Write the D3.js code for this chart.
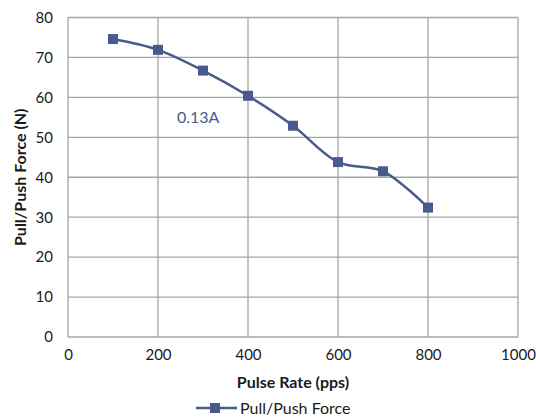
<!DOCTYPE html>
<html>
<head>
<meta charset="utf-8">
<script src="https://cdn.jsdelivr.net/npm/d3@7"></script>
<style>
  body { margin: 0; background: #fff; }
  svg text { font-family: Lato, "Liberation Sans", sans-serif; fill: #1a1a1a; }
</style>
</head>
<body>
<div id="chart"></div>
<script>
let width = 536,
    height = 419

// data
let pulseRate = [100, 200, 300, 400, 500, 600, 700, 800]
let force = [74.6, 71.9, 66.7, 60.4, 52.9, 43.8, 41.5, 32.4]
let xTicks = [0, 200, 400, 600, 800, 1000]
let yTicks = [0, 10, 20, 30, 40, 50, 60, 70, 80]
let seriesName = "Pull/Push Force"
let note = "0.13A"

let color = "#4A5A8C",
    grid = "#A6A6A6"

let svg = d3.select("#chart").append("svg")
  .attr("width", width)
  .attr("height", height)

let x = d3.scaleLinear().domain([0, 1000]).range([68, 518])
let y = d3.scaleLinear().domain([0, 80]).range([337, 17.5])

// gridlines
svg.append("g")
  .selectAll("line.h")
  .data(yTicks)
  .enter().append("line")
  .attr("x1", x(0)).attr("x2", x(1000))
  .attr("y1", d => y(d)).attr("y2", d => y(d))
  .attr("stroke", grid).attr("stroke-width", 1.3)

svg.append("g")
  .selectAll("line.v")
  .data(xTicks)
  .enter().append("line")
  .attr("x1", d => x(d)).attr("x2", d => x(d))
  .attr("y1", y(0)).attr("y2", y(80))
  .attr("stroke", grid).attr("stroke-width", 1.3)

// axes (labels only)
let xAxis = svg.append("g")
  .attr("transform", "translate(0," + y(0) + ")")
  .call(d3.axisBottom(x).tickValues(xTicks).tickSize(0).tickPadding(12).tickFormat(d3.format("d")))
xAxis.select(".domain").remove()
xAxis.selectAll("text").attr("font-size", 15).style("font-family", "Lato, sans-serif")

let yAxis = svg.append("g")
  .attr("transform", "translate(" + x(0) + ",0)")
  .call(d3.axisLeft(y).tickValues(yTicks).tickSize(0).tickPadding(15).tickFormat(d3.format("d")))
yAxis.select(".domain").remove()
yAxis.selectAll("text").attr("font-size", 15).style("font-family", "Lato, sans-serif")

// axis titles
svg.append("text")
  .attr("x", (x(0) + x(1000)) / 2)
  .attr("y", 388)
  .attr("text-anchor", "middle")
  .attr("font-size", 16)
  .attr("font-weight", "bold")
  .text("Pulse Rate (pps)")

svg.append("text")
  .attr("transform", "translate(26," + (y(0) + y(80)) / 2 + ") rotate(-90)")
  .attr("text-anchor", "middle")
  .attr("font-size", 16)
  .attr("font-weight", "bold")
  .text("Pull/Push Force (N)")

// series
let line = d3.line()
  .x((d, i) => x(pulseRate[i]))
  .y(d => y(d))
  .curve(d3.curveCatmullRom.alpha(0.5))

svg.append("path")
  .datum(force)
  .attr("d", line)
  .attr("fill", "none")
  .attr("stroke", color)
  .attr("stroke-width", 2.5)

svg.append("g")
  .selectAll("rect")
  .data(force)
  .enter().append("rect")
  .attr("x", (d, i) => x(pulseRate[i]) - 5)
  .attr("y", d => y(d) - 5)
  .attr("width", 10)
  .attr("height", 10)
  .attr("fill", color)

// annotation
svg.append("text")
  .attr("x", 177)
  .attr("y", 123)
  .attr("font-size", 16)
  .style("fill", color)
  .text(note)

// legend
let lg = svg.append("g").attr("transform", "translate(0,408)")
lg.append("line")
  .attr("x1", 196).attr("x2", 237)
  .attr("stroke", color).attr("stroke-width", 2.5)
lg.append("rect")
  .attr("x", 210).attr("y", -5).attr("width", 10).attr("height", 10)
  .attr("fill", color)
lg.append("text")
  .attr("x", 240).attr("y", 5.5)
  .attr("font-size", 16)
  .text(seriesName)
</script>
</body>
</html>
